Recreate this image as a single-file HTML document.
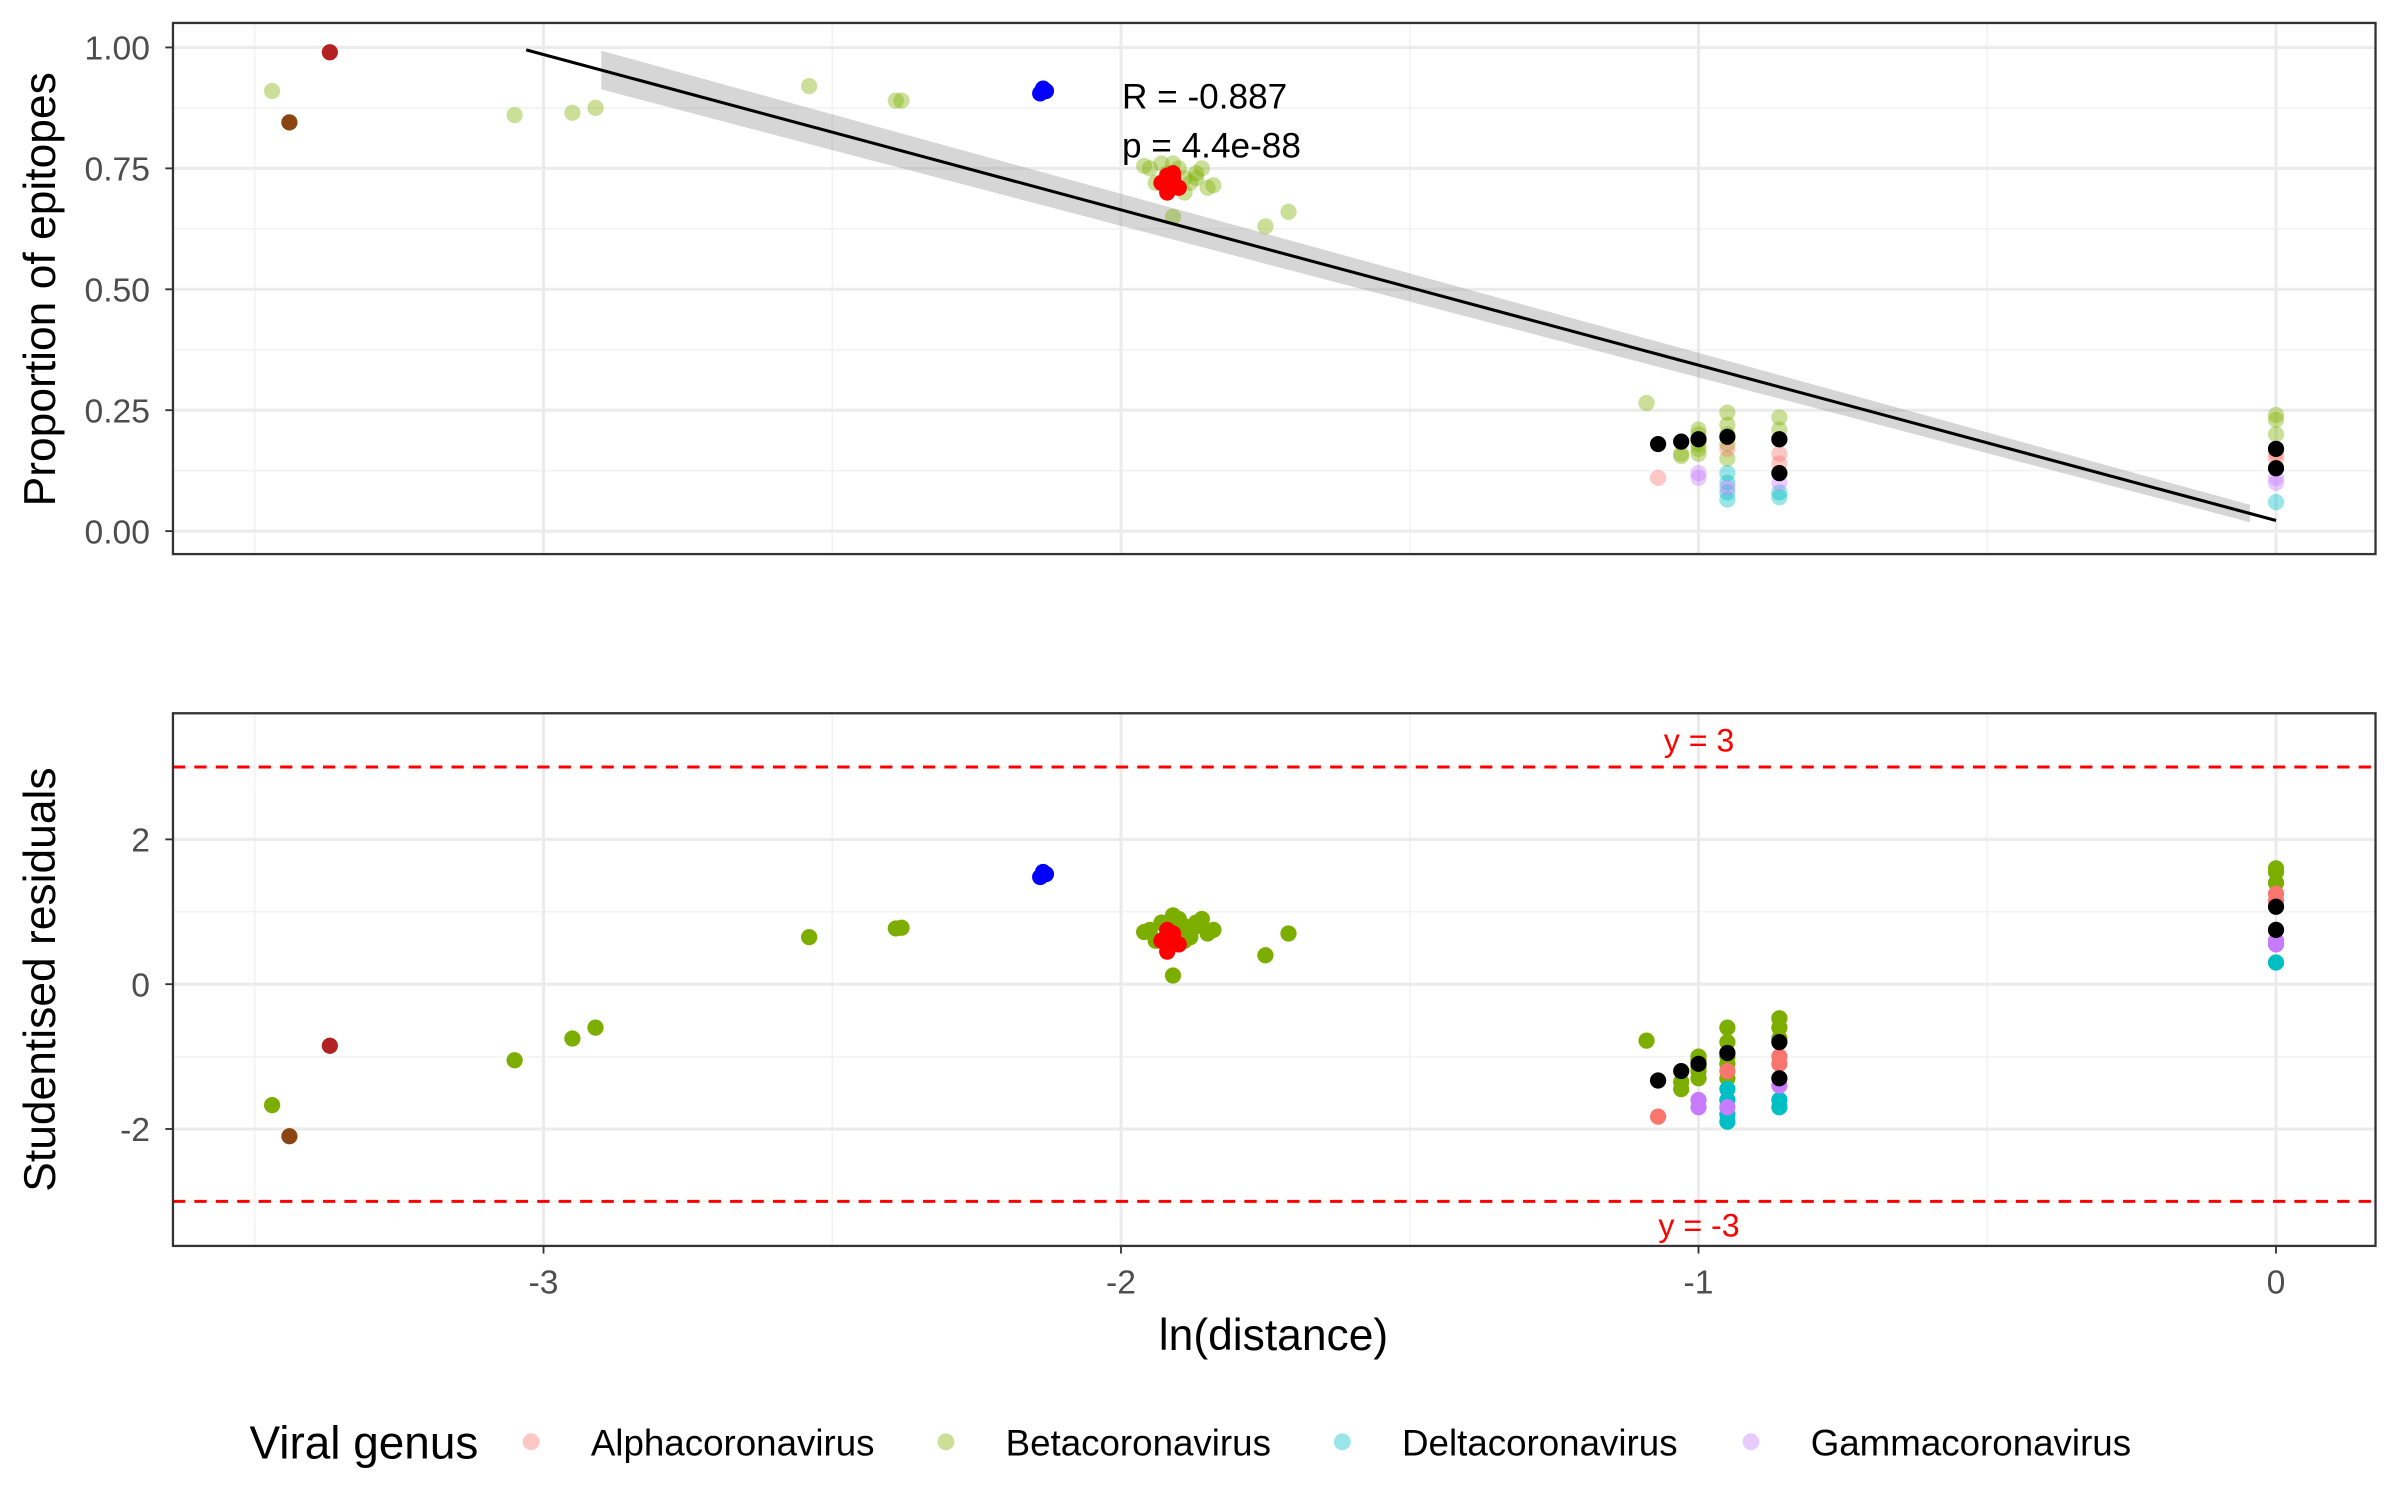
<!DOCTYPE html>
<html><head><meta charset="utf-8"><style>
html,body{margin:0;padding:0;background:#fff;}
svg{display:block;font-family:"Liberation Sans",sans-serif;}
</style></head><body>
<svg id="chart" width="2400" height="1500" viewBox="0 0 1568 980" xmlns="http://www.w3.org/2000/svg">
<g id="top"></g>
<g id="bot"></g>
<text x="36" y="189" font-size="29" text-anchor="middle" transform="rotate(-90 36 189)" fill="#000">Proportion of epitopes</text>
<text x="36" y="640" font-size="29" text-anchor="middle" transform="rotate(-90 36 640)" fill="#000">Studentised residuals</text>
<text x="832" y="882" font-size="29" text-anchor="middle" fill="#000">ln(distance)</text>
<g>
<text x="163" y="953" font-size="30" fill="#000">Viral genus</text>
<g><circle cx="347" cy="942" r="5.5" fill="#F8766D" fill-opacity="0.4"/><text x="386" y="951" font-size="24">Alphacoronavirus</text></g>
<g><circle cx="618" cy="942" r="5.5" fill="#7CAE00" fill-opacity="0.4"/><text x="657" y="951" font-size="24">Betacoronavirus</text></g>
<g><circle cx="877" cy="942" r="5.5" fill="#00BFC4" fill-opacity="0.4"/><text x="916" y="951" font-size="24">Deltacoronavirus</text></g>
<g><circle cx="1144" cy="942" r="5.5" fill="#C77CFF" fill-opacity="0.4"/><text x="1183" y="951" font-size="24">Gammacoronavirus</text></g>
</g>
</svg>
<script>
const xTicks=[-3,-2,-1,0];
const topTicks=[0,0.25,0.5,0.75,1];
const topTickLabels=["0.00","0.25","0.50","0.75","1.00"];
const botTicks=[-2,0,2];
const ptX=[-3.44,-3.37,-3.47,-3.05,-2.95,-2.91,-2.54,-2.39,-2.38,-2.14,-2.13,-2.135,
-1.95,-1.93,-1.92,-1.90,-1.89,-1.88,-1.87,-1.86,-1.85,-1.94,-1.91,-1.89,-1.87,-1.96,-1.84,
-1.93,-1.92,-1.91,-1.90,-1.92,-1.91,-1.75,-1.71,-1.91,
-1.09,-1.07,-1.07,-1.03,-1.03,-1.03,
-1,-1,-1,-1,-1,-1,-1,-1,
-0.95,-0.95,-0.95,-0.95,-0.95,-0.95,-0.95,-0.95,-0.95,-0.95,-0.95,-0.95,
-0.86,-0.86,-0.86,-0.86,-0.86,-0.86,-0.86,-0.86,-0.86,-0.86,
0,0,0,0,0,0,0,0,0,0];
const ptY=[0.845,0.99,0.91,0.86,0.865,0.875,0.92,0.89,0.89,0.905,0.91,0.915,
0.75,0.76,0.74,0.75,0.73,0.72,0.74,0.75,0.71,0.72,0.76,0.70,0.73,0.755,0.715,
0.72,0.70,0.73,0.71,0.735,0.74,0.63,0.66,0.65,
0.265,0.11,0.18,0.185,0.16,0.155,
0.21,0.2,0.18,0.17,0.16,0.19,0.11,0.12,
0.245,0.22,0.2,0.18,0.15,0.195,0.065,0.08,0.1,0.12,0.17,0.09,
0.235,0.21,0.19,0.19,0.12,0.16,0.14,0.07,0.08,0.1,
0.24,0.23,0.2,0.17,0.13,0.16,0.15,0.06,0.1,0.11];
const ptRes=[-2.1,-0.85,-1.67,-1.05,-0.75,-0.6,0.65,0.77,0.78,1.48,1.52,1.55,
0.75,0.85,0.7,0.9,0.8,0.65,0.85,0.9,0.7,0.6,0.95,0.6,0.8,0.72,0.75,
0.6,0.45,0.7,0.55,0.75,0.65,0.4,0.7,0.12,
-0.78,-1.83,-1.33,-1.2,-1.45,-1.35,
-1.0,-1.05,-1.15,-1.3,-1.2,-1.1,-1.6,-1.7,
-0.6,-0.8,-1.0,-1.1,-1.3,-0.95,-1.9,-1.8,-1.6,-1.45,-1.2,-1.7,
-0.47,-0.6,-0.75,-0.8,-1.3,-1.0,-1.1,-1.7,-1.6,-1.4,
1.6,1.55,1.4,1.07,0.75,1.25,1.15,0.3,0.55,0.6];
const ptG=["brown","darkred","B","B","B","B","B","B","B","blue","blue","blue",
"B","B","B","B","B","B","B","B","B","B","B","B","B","B","B",
"red","red","red","red","red","red","B","B","B",
"B","A","K","K","B","B",
"B","B","B","B","B","K","G","G",
"B","B","B","B","B","K","D","D","D","D","A","G",
"B","B","B","K","K","A","A","D","D","G",
"B","B","B","K","K","A","A","D","G","G"];
const fitStart=[-3.03,0.995], fitEnd=[0,0.022];
const colors={A:"#F8766D",B:"#7CAE00",D:"#00BFC4",G:"#C77CFF",K:"#000",blue:"#0000FF",red:"#FF0000",brown:"#8B4513",darkred:"#B22222"};
const NS="http://www.w3.org/2000/svg";
const L=113,R=1552;
const sx=v=>1487+377.3*v;
const syT=v=>347-316*v;
const syB=v=>643-47.3*v;
function mk(p,tag,at){const e=document.createElementNS(NS,tag);for(const k in at)e.setAttribute(k,at[k]);p.appendChild(e);return e;}
function panel(g,top,bot,sy,majors,minors,labels){
  mk(g,'rect',{x:L,y:top,width:R-L,height:bot-top,fill:'#fff'});
  minors.forEach(v=>mk(g,'line',{x1:L,x2:R,y1:sy(v),y2:sy(v),stroke:'#f2f2f2','stroke-width':1}));
  [-3.5,-2.5,-1.5,-0.5].forEach(v=>mk(g,'line',{x1:sx(v),x2:sx(v),y1:top,y2:bot,stroke:'#f2f2f2','stroke-width':1}));
  majors.forEach((v,i)=>{
    const l=mk(g,'line',{x1:L,x2:R,y1:sy(v),y2:sy(v),stroke:'#ebebeb','stroke-width':2});
    
    
    mk(g,'line',{x1:L-5,x2:L,y1:sy(v),y2:sy(v),stroke:'#333','stroke-width':1.2});
    const t=mk(g,'text',{x:L-15,y:sy(v)+8,'font-size':22,fill:'#4d4d4d','text-anchor':'end'});
    t.textContent=labels[i];
    
    
  });
  xTicks.forEach(v=>{
    mk(g,'line',{x1:sx(v),x2:sx(v),y1:top,y2:bot,stroke:'#ebebeb','stroke-width':2});
  });
}
const gT=document.getElementById('top'),gB=document.getElementById('bot');
panel(gT,15,362,syT,topTicks,[0.125,0.375,0.625,0.875],topTickLabels);
panel(gB,466,814,syB,botTicks,[-3,-1,1,3],botTicks.map(String));
xTicks.forEach(v=>{
  mk(gB,'line',{x1:sx(v),x2:sx(v),y1:814,y2:819,stroke:'#333','stroke-width':1.2});
  const t=mk(gB,'text',{x:sx(v),y:845,'font-size':22,fill:'#4d4d4d','text-anchor':'middle'});
  t.textContent=String(v);
  
  
});
const slope=(fitEnd[1]-fitStart[1])/(fitEnd[0]-fitStart[0]);
const fy=x=>fitStart[1]+slope*(x-fitStart[0]);
const bx0=-2.9,bx1=-0.045;
const band=mk(gT,'polygon',{points:[[bx0,fy(bx0)+0.04],[bx1,fy(bx1)+0.018],[bx1,fy(bx1)-0.018],[bx0,fy(bx0)-0.04]].map(p=>sx(p[0])+','+syT(p[1])).join(' '),fill:'#999','fill-opacity':0.4});


[3,-3].forEach(v=>{
  const l=mk(gB,'line',{x1:L,x2:R,y1:syB(v),y2:syB(v),stroke:'#FF0000','stroke-width':2,'stroke-dasharray':'8,6'});
  
  
});
const t3=mk(gB,'text',{x:1110,y:491,'font-size':21,fill:'#FF0000','text-anchor':'middle'});t3.textContent='y = 3';


const tm3=mk(gB,'text',{x:1110,y:808,'font-size':21,fill:'#FF0000','text-anchor':'middle'});tm3.textContent='y = -3';


const order=ptG.map((g,i)=>i).sort((a,b)=>{const r=g=>'ABDG'.includes(g)?0:1;return r(ptG[a])-r(ptG[b]);});
order.forEach(i=>{
  const g=ptG[i],light='ABDG'.includes(g);
  const c1=mk(gT,'circle',{cx:sx(ptX[i]),cy:syT(ptY[i]),r:5.3,fill:colors[g],'fill-opacity':light?0.4:1});
  
  
  const c2=mk(gB,'circle',{cx:sx(ptX[i]),cy:syB(ptRes[i]),r:5.3,fill:colors[g]});
  
  
});
const fl=mk(gT,'line',{x1:sx(fitStart[0]),y1:syT(fitStart[1]),x2:sx(fitEnd[0]),y2:syT(fitEnd[1]),stroke:'#000','stroke-width':2});


const r1=mk(gT,'text',{x:733,y:71,'font-size':23,fill:'#000'});r1.textContent='R = -0.887';


const r2=mk(gT,'text',{x:733,y:103,'font-size':23,fill:'#000'});r2.textContent='p = 4.4e-88';


[[15,362],[466,814]].forEach(([a,b])=>{
  const f=mk(document.getElementById('chart'),'rect',{x:L,y:a,width:R-L,height:b-a,fill:'none',stroke:'#333','stroke-width':1.5});
  
  
});
</script>
</body></html>
